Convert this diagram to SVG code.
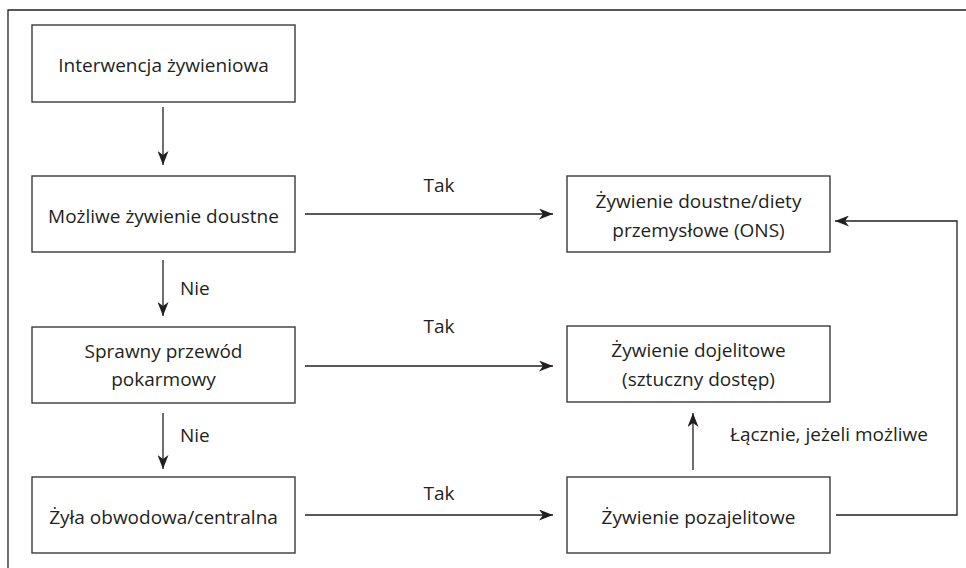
<svg xmlns="http://www.w3.org/2000/svg" width="966" height="568" viewBox="0 0 966 568">
<style>
.box{fill:#fff;stroke:#3a3a3a;stroke-width:1.4}
.ln{fill:none;stroke:#231f20;stroke-width:1.3}
text{font-family:"Open Sans","Noto Sans","Liberation Sans",sans-serif;font-size:19px;fill:#231f20}
.c{text-anchor:middle}
</style>
<defs>
<marker id="ah" viewBox="0 0 14 11" refX="14" refY="5.5" markerWidth="14" markerHeight="11" markerUnits="userSpaceOnUse" orient="auto">
<path d="M0,0 L14,5.5 L0,11 L4,5.5 Z" fill="#231f20"/>
</marker>
</defs>
<rect width="966" height="568" fill="#fff"/>
<path class="ln" d="M8,568 V10 H966" stroke-width="1.6"/>
<g id="connectors">
<line class="ln" x1="163" y1="107" x2="163" y2="165" marker-end="url(#ah)"/>
<line class="ln" x1="163" y1="260" x2="163" y2="316" marker-end="url(#ah)"/>
<line class="ln" x1="163" y1="413" x2="163" y2="469" marker-end="url(#ah)"/>
<line class="ln" x1="305" y1="214" x2="553" y2="214" marker-end="url(#ah)"/>
<line class="ln" x1="305" y1="366" x2="553" y2="366" marker-end="url(#ah)"/>
<line class="ln" x1="305" y1="515" x2="553" y2="515" marker-end="url(#ah)"/>
<line class="ln" x1="693" y1="470" x2="693" y2="413" marker-end="url(#ah)"/>
<polyline class="ln" points="836,515 957,515 957,221 835,221" marker-end="url(#ah)"/>
<text x="180" y="295">Nie</text>
<text x="180" y="442">Nie</text>
<text class="c" x="439" y="192">Tak</text>
<text class="c" x="439" y="333">Tak</text>
<text class="c" x="439" y="500">Tak</text>
<text x="730" y="441">Łącznie, jeżeli możliwe</text>
</g>
<g id="n1"><rect class="box" x="32" y="25" width="263" height="77"/><text class="c" x="163.5" y="72">Interwencja żywieniowa</text></g>
<g id="n2"><rect class="box" x="32" y="176" width="263" height="76"/><text class="c" x="163.5" y="223">Możliwe żywienie doustne</text></g>
<g id="n3"><rect class="box" x="32" y="327" width="263" height="76"/><text class="c" x="163.5" y="358">Sprawny przewód</text><text class="c" x="163.5" y="386">pokarmowy</text></g>
<g id="n4"><rect class="box" x="32" y="477" width="263" height="76"/><text class="c" x="163.5" y="524">Żyła obwodowa/centralna</text></g>
<g id="n5"><rect class="box" x="567" y="176" width="263" height="76"/><text class="c" x="698.5" y="208">Żywienie doustne/diety</text><text class="c" x="698.5" y="237">przemysłowe (ONS)</text></g>
<g id="n6"><rect class="box" x="567" y="326" width="263" height="76"/><text class="c" x="698.5" y="357">Żywienie dojelitowe</text><text class="c" x="698.5" y="386">(sztuczny dostęp)</text></g>
<g id="n7"><rect class="box" x="567" y="477" width="263" height="76"/><text class="c" x="698.5" y="524">Żywienie pozajelitowe</text></g>
</svg>
